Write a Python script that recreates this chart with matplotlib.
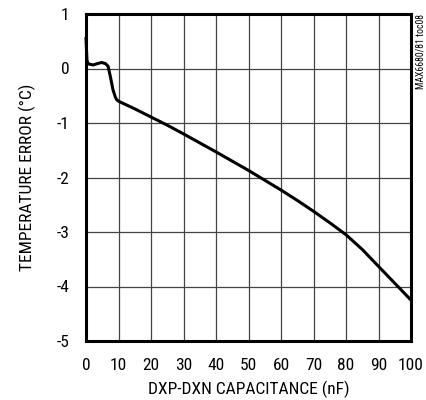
import matplotlib
matplotlib.use("Agg")
import matplotlib.pyplot as plt

plt.rcParams['font.family'] = ['Roboto Condensed', 'DejaVu Sans']
plt.rcParams['axes.unicode_minus'] = False

cap_nf = [0.0, 0.3, 0.6, 1, 2.2, 3.5, 4.8, 6, 6.8, 7.5, 8.3, 9.0, 9.4, 10, 15, 20, 25, 30, 40, 50, 55, 60, 65, 70, 75, 80, 85, 90, 95, 100]
temp_err = [0.55, 0.15, 0.09, 0.08, 0.065, 0.09, 0.11, 0.09, 0.04, -0.15, -0.39, -0.52, -0.57, -0.60, -0.74, -0.89, -1.04, -1.20, -1.53, -1.87, -2.05, -2.23, -2.42, -2.62, -2.83, -3.05, -3.32, -3.63, -3.94, -4.25]

xticks = [0, 10, 20, 30, 40, 50, 60, 70, 80, 90, 100]
yticks = [1, 0, -1, -2, -3, -4, -5]

fig = plt.figure(figsize=(4.26, 4.0), dpi=100)
ax = fig.add_axes([86/426, 1 - 341/400, (411-86)/426, (341-14)/400])
ax.plot(cap_nf, temp_err, color='black', lw=2.2, solid_joinstyle='round', zorder=3, clip_on=False)
ax.set_xlim(0, 100)
ax.set_ylim(-5, 1)
ax.set_xticks(xticks)
ax.set_yticks(yticks)
ax.set_yticklabels([str(t) for t in yticks])
ax.grid(True, color='#444444', lw=0.9)
ax.tick_params(length=0, labelsize=12.5, pad=12)
for s in ax.spines.values():
    s.set_linewidth(2.2)
    s.set_color('black')
ax.set_xlabel('DXP-DXN CAPACITANCE (nF)', fontsize=12.5, labelpad=6)
ax.set_ylabel('TEMPERATURE ERROR (°C)', fontsize=12.5, labelpad=15)
fig.text(420/426, 1 - 14/400, 'MAX6680/81 toc08', rotation=90, ha='center', va='top', fontsize=7)
fig.savefig('out.png', dpi=100)
